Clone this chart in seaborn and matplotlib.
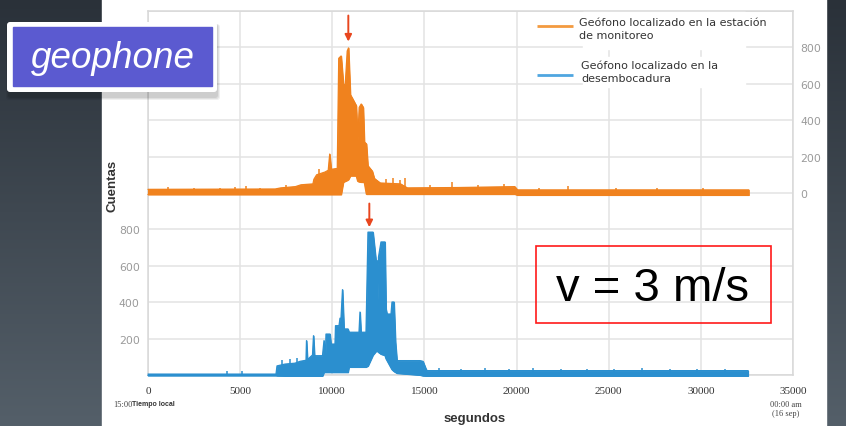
import numpy as np
import pandas as pd
import matplotlib
matplotlib.use("Agg")
import matplotlib.pyplot as plt
import seaborn as sns
from matplotlib.patches import Rectangle, FancyBboxPatch
from matplotlib.colors import LinearSegmentedColormap

# ---------------- data ----------------
x_ticks = [0, 5000, 10000, 15000, 20000, 25000, 30000, 35000]
x_tick_labels = ["0", "5000", "10000", "15000", "20000", "25000", "30000", "35000"]
left_tick_values = [200, 400, 600, 800]
right_tick_values = [0, 200, 400, 600, 800]

# top trace: geophone at monitoring station (orange); upper / lower envelope
orange_t = [0, 6900, 7200, 8000, 8300, 8950, 9000, 9150, 9600, 9780,
            9860, 9940, 10270, 10350, 10480, 10600, 10700, 10810, 10880, 10980,
            11090, 11300, 11380, 11460, 11570, 11680, 11740, 11850, 11930, 12170,
            12280, 12600, 13700, 14070, 16800, 19900, 20050, 32600]
orange_up = [20, 22, 28, 35, 45, 50, 75, 100, 115, 125,
             214, 130, 135, 740, 753, 600, 590, 780, 797, 540,
             520, 480, 290, 470, 489, 470, 280, 270, 150, 120,
             80, 55, 50, 28, 30, 35, 17, 17]
orange_lo = [-8, -8, -8, -8, -8, -8, -8, -8, -8, -8,
             -8, -8, -8, -8, -8, 60, 65, 70, 75, 95,
             95, 95, 65, 62, 60, 60, 58, -6, -6, -6,
             -6, -6, -6, -6, -6, -6, -11, -11]
orange_spike_t = [1100, 2500, 3900, 4700, 5300, 6100, 7500, 9300, 12900, 13300,
                  13650, 13970, 15300, 16500, 17900, 19300, 21200, 22800, 25400, 27600, 30100]
orange_spike_v = [32, 30, 28, 34, 40, 30, 45, 130, 75, 82,
                  70, 82, 45, 60, 42, 48, 28, 36, 26, 30, 26]

# bottom trace: geophone at the river mouth (blue)
blue_t = [0, 6945, 7000, 7434, 7976, 8247, 8519, 8573, 8600, 8654,
          8926, 8980, 9034, 9061, 9468, 9550, 9631, 9658, 9875, 9929,
          10146, 10174, 10364, 10418, 10472, 10553, 10635, 10852, 10906, 11449,
          11503, 11557, 11829, 11937, 12208, 12371, 12425, 12452, 12507, 12642,
          12859, 12914, 12968, 13185, 13240, 13348, 13429, 13510, 14758, 14921,
          15084, 15138, 32560]
blue_up = [5, 5, 50, 60, 65, 75, 80, 80, 189, 85,
           110, 216, 110, 106, 106, 189, 110, 225, 225, 170,
           170, 271, 271, 312, 312, 469, 253, 253, 235, 235,
           346, 235, 235, 785, 785, 629, 629, 400, 648, 731,
           731, 363, 335, 335, 401, 401, 181, 79, 79, 75,
           33, 24, 24]
blue_lo = [-3, -3, -4, -5, -5, -5, -5, -5, -5, -5,
           -5, -5, -5, -5, -5, 15, 15, 15, 15, 15,
           15, 15, 15, 15, 15, 15, 15, 15, 44, 44,
           44, 44, 44, 50, 110, 130, 134, 130, 125, 115,
           108, 90, 80, 40, 30, 20, 15, 10, 0, -4,
           -5, -5, -5]
blue_spike_t = [4290, 5100, 7250, 7700, 8100, 15800, 17000, 18300, 19600, 20900,
                22400, 23800, 25300, 26800, 28300, 29800, 31300]
blue_spike_v = [22, 20, 85, 90, 95, 38, 35, 36, 34, 36,
                33, 35, 34, 36, 34, 35, 33]

top_offset = 1000  # the upper trace sits 1000 counts above the lower one
orange_peak_t, blue_peak_t = 10870, 12010

# ---------------- styling ----------------
ORANGE = "#f0821e"
BLUE = "#2b8fcf"
ARROW = "#e8461e"
GRID = "#e3e3e3"

sns.set_theme(style="white")
plt.rcParams['font.family'] = ['DejaVu Sans']

W, H = 846, 427
fig = plt.figure(figsize=(W / 100, H / 100), dpi=100)

def fx(x):
    return x / W

def fy(y):
    return 1 - y / H

# background (slide)
bg = fig.add_axes([0, 0, 1, 1], zorder=-5)
bg.set_xlim(0, W); bg.set_ylim(H, 0); bg.axis('off')
grad = np.linspace(0, 1, 256).reshape(-1, 1)
cmap = LinearSegmentedColormap.from_list('bg', ['#2a3139', '#545f69'])
bg.imshow(grad, cmap=cmap, aspect='auto', extent=[0, W, H, 0])
bg.add_patch(Rectangle((102, 0), 724, H, color='white'))

# main chart axes
ax = fig.add_axes([fx(148), fy(376), (793 - 148) / W, (376 - 12) / H])
ax.set_facecolor('white')

df_o = pd.DataFrame({'t': orange_t,
                     'up': np.array(orange_up) + top_offset,
                     'lo': np.array(orange_lo) + top_offset})
df_b = pd.DataFrame({'t': blue_t, 'up': blue_up, 'lo': blue_lo})

for df, col in ((df_o, ORANGE), (df_b, BLUE)):
    ax.fill_between(df['t'], df['lo'], df['up'], color=col, lw=0.8, clip_on=False, zorder=3)
    sns.lineplot(data=df, x='t', y='up', color=col, lw=0.9, ax=ax, clip_on=False, zorder=3)
    sns.lineplot(data=df, x='t', y='lo', color=col, lw=1.0, ax=ax, clip_on=False, zorder=3)

ax.vlines(orange_spike_t, top_offset, np.array(orange_spike_v) + top_offset,
          color=ORANGE, lw=1.1, zorder=3)
ax.vlines(blue_spike_t, 0, blue_spike_v, color=BLUE, lw=1.1, zorder=3, clip_on=False)

# arrows marking the peaks
ax.annotate('', xy=(orange_peak_t, 1832), xytext=(orange_peak_t, 1975),
            arrowprops=dict(arrowstyle='-|>', color=ARROW, lw=1.4, mutation_scale=10,
                            shrinkA=0, shrinkB=0))
ax.annotate('', xy=(blue_peak_t, 812), xytext=(blue_peak_t, 942),
            arrowprops=dict(arrowstyle='-|>', color=ARROW, lw=1.4, mutation_scale=10,
                            shrinkA=0, shrinkB=0))

ax.set_xlim(0, 35000)
ax.set_ylim(0, 2000)
ax.set_xlabel('')
ax.set_ylabel('')
ax.set_xticks(x_ticks, x_tick_labels)
yt = list(range(0, 2001, 200))
ax.set_yticks(yt, [str(v) if v in left_tick_values else '' for v in yt])
ax.grid(True, color=GRID, lw=1.1, zorder=0)
ax.set_axisbelow(True)
ax.tick_params(axis='x', length=0, pad=8, labelsize=8, labelcolor='#333333')
for lab in ax.get_xticklabels():
    lab.set_family(['Liberation Serif', 'DejaVu Serif'])
ax.tick_params(axis='y', length=0, pad=6, labelsize=7.8, labelcolor='#9a9a9a')
for sp in ax.spines.values():
    sp.set_visible(True)
    sp.set_color('#d8d8d8')
    sp.set_linewidth(1.1)

tw = ax.twinx()
tw.set_ylim(0, 2000)
tw.set_yticks([v + top_offset for v in right_tick_values], [str(v) for v in right_tick_values])
tw.tick_params(axis='y', length=0, pad=5, labelsize=7.8, labelcolor='#9a9a9a')
tw.grid(False)
for sp in tw.spines.values():
    sp.set_visible(False)

# ---------------- overlay in pixel coordinates ----------------
ov = fig.add_axes([0, 0, 1, 1], zorder=5)
ov.set_xlim(0, W); ov.set_ylim(H, 0)
ov.set_facecolor('none')
ov.axis('off')

# axis titles & time notes
ov.text(112, 186, 'Cuentas', rotation=90, ha='center', va='center', fontsize=9.5,
        fontweight='bold', color='#333333', family=['Liberation Sans', 'DejaVu Sans'])
ov.text(475, 419, 'segundos', ha='center', va='center', fontsize=9.5,
        fontweight='bold', color='#333333', family=['Liberation Sans', 'DejaVu Sans'])
ov.text(113, 405, '15:00', ha='left', va='center', fontsize=6, color='#444444',
        family=['Liberation Serif', 'DejaVu Serif'])
ov.text(132, 405, 'Tiempo local', ha='left', va='center', fontsize=5, fontweight='bold',
        color='#333333', family=['Liberation Sans', 'DejaVu Sans'])
ov.text(786, 405, '00:00 am', ha='center', va='center', fontsize=6, color='#444444',
        family=['Liberation Serif', 'DejaVu Serif'])
ov.text(786, 414, '(16 sep)', ha='center', va='center', fontsize=6, color='#444444',
        family=['Liberation Serif', 'DejaVu Serif'])

# legend
ov.add_patch(Rectangle((583, 13), 162, 37, color='white', zorder=1))
ov.add_patch(Rectangle((583, 58), 162, 30, color='white', zorder=1))
ov.plot([537, 573], [27, 27], color='#f39a40', lw=2, solid_capstyle='butt', zorder=2)
ov.plot([537, 573], [76, 76], color='#4fa6e0', lw=2, solid_capstyle='butt', zorder=2)
ov.text(579, 18, 'Geófono localizado en la estación\nde monitoreo', ha='left', va='top',
        fontsize=8, linespacing=1.35, color='#333333', zorder=3)
ov.text(581, 61, 'Geófono localizado en la\ndesembocadura', ha='left', va='top',
        fontsize=8, linespacing=1.35, color='#333333', zorder=3)

# red box with speed
ov.add_patch(Rectangle((536, 247), 235, 77, fill=False, ec='#ff1a1a', lw=1.2, zorder=2))
ov.text(653, 289, 'v = 3 m/s', ha='center', va='center', fontsize=34, color='black',
        family=['Liberation Sans', 'DejaVu Sans'], zorder=3)

# "geophone" label box with shadow
for i, a in enumerate([0.06, 0.07, 0.08]):
    d = 3 - i
    ov.add_patch(FancyBboxPatch((7 - d + 2, 23 + 2), 210 + 2 * d - 2, 70 + d + 3,
                                boxstyle='round,pad=0,rounding_size=3',
                                fc='black', ec='none', alpha=a, zorder=3))
ov.add_patch(FancyBboxPatch((7, 23), 210, 70, boxstyle='round,pad=0,rounding_size=3',
                            fc='white', ec='none', zorder=4))
ov.add_patch(Rectangle((12.5, 28), 199.5, 59, color='#5b5ad0', zorder=5))
ov.text(113, 59, 'geophone', ha='center', va='center', fontsize=26.5, style='italic',
        color='white', family=['Liberation Sans', 'DejaVu Sans'], zorder=6)

fig.savefig('out.png', dpi=100)
